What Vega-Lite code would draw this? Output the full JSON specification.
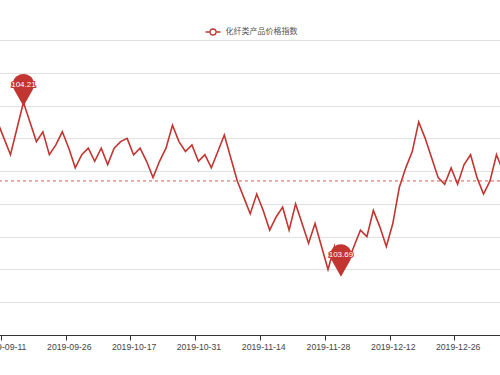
{
  "$schema": "https://vega.github.io/schema/vega-lite/v6.json",
  "autosize": {"type": "none"},
  "width": 500,
  "height": 295,
  "padding": {"top": 40, "left": 0, "right": 0, "bottom": 40},
  "background": "white",
  "config": {"view": {"stroke": null}},
  "data": {"values": [
    {"date": "2019-09-10", "value": 104.15},
    {"date": "2019-09-11", "value": 104.10},
    {"date": "2019-09-12", "value": 104.05},
    {"date": "2019-09-16", "value": 104.13},
    {"date": "2019-09-17", "value": 104.21},
    {"date": "2019-09-18", "value": 104.15},
    {"date": "2019-09-19", "value": 104.09},
    {"date": "2019-09-20", "value": 104.12},
    {"date": "2019-09-23", "value": 104.05},
    {"date": "2019-09-24", "value": 104.08},
    {"date": "2019-09-25", "value": 104.12},
    {"date": "2019-09-26", "value": 104.07},
    {"date": "2019-09-27", "value": 104.01},
    {"date": "2019-09-30", "value": 104.05},
    {"date": "2019-10-08", "value": 104.07},
    {"date": "2019-10-09", "value": 104.03},
    {"date": "2019-10-10", "value": 104.07},
    {"date": "2019-10-11", "value": 104.02},
    {"date": "2019-10-14", "value": 104.07},
    {"date": "2019-10-15", "value": 104.09},
    {"date": "2019-10-16", "value": 104.10},
    {"date": "2019-10-17", "value": 104.05},
    {"date": "2019-10-18", "value": 104.07},
    {"date": "2019-10-21", "value": 104.03},
    {"date": "2019-10-22", "value": 103.98},
    {"date": "2019-10-23", "value": 104.03},
    {"date": "2019-10-24", "value": 104.07},
    {"date": "2019-10-25", "value": 104.14},
    {"date": "2019-10-28", "value": 104.09},
    {"date": "2019-10-29", "value": 104.06},
    {"date": "2019-10-30", "value": 104.08},
    {"date": "2019-10-31", "value": 104.03},
    {"date": "2019-11-01", "value": 104.05},
    {"date": "2019-11-04", "value": 104.01},
    {"date": "2019-11-05", "value": 104.06},
    {"date": "2019-11-06", "value": 104.11},
    {"date": "2019-11-07", "value": 104.04},
    {"date": "2019-11-08", "value": 103.97},
    {"date": "2019-11-11", "value": 103.92},
    {"date": "2019-11-12", "value": 103.87},
    {"date": "2019-11-13", "value": 103.93},
    {"date": "2019-11-14", "value": 103.88},
    {"date": "2019-11-15", "value": 103.82},
    {"date": "2019-11-18", "value": 103.86},
    {"date": "2019-11-19", "value": 103.89},
    {"date": "2019-11-20", "value": 103.82},
    {"date": "2019-11-21", "value": 103.90},
    {"date": "2019-11-22", "value": 103.84},
    {"date": "2019-11-25", "value": 103.78},
    {"date": "2019-11-26", "value": 103.84},
    {"date": "2019-11-27", "value": 103.77},
    {"date": "2019-11-28", "value": 103.70},
    {"date": "2019-11-29", "value": 103.77},
    {"date": "2019-12-02", "value": 103.69},
    {"date": "2019-12-03", "value": 103.72},
    {"date": "2019-12-04", "value": 103.77},
    {"date": "2019-12-05", "value": 103.82},
    {"date": "2019-12-06", "value": 103.80},
    {"date": "2019-12-09", "value": 103.88},
    {"date": "2019-12-10", "value": 103.83},
    {"date": "2019-12-11", "value": 103.77},
    {"date": "2019-12-12", "value": 103.84},
    {"date": "2019-12-13", "value": 103.95},
    {"date": "2019-12-16", "value": 104.01},
    {"date": "2019-12-17", "value": 104.06},
    {"date": "2019-12-18", "value": 104.15},
    {"date": "2019-12-19", "value": 104.10},
    {"date": "2019-12-20", "value": 104.04},
    {"date": "2019-12-23", "value": 103.98},
    {"date": "2019-12-24", "value": 103.96},
    {"date": "2019-12-25", "value": 104.01},
    {"date": "2019-12-26", "value": 103.96},
    {"date": "2019-12-27", "value": 104.02},
    {"date": "2019-12-30", "value": 104.05},
    {"date": "2019-12-31", "value": 103.98},
    {"date": "2020-01-02", "value": 103.93},
    {"date": "2020-01-03", "value": 103.97},
    {"date": "2020-01-06", "value": 104.05},
    {"date": "2020-01-07", "value": 104.00}
  ]},
  "transform": [
    {"joinaggregate": [{"op": "max", "field": "value", "as": "vmax"}, {"op": "min", "field": "value", "as": "vmin"}]}
  ],
  "layer": [
    {
      "mark": {"type": "line", "strokeWidth": 1.6, "clip": true},
      "encoding": {
        "x": {
          "field": "date", "type": "ordinal", "sort": null,
          "scale": {"type": "band", "range": [-5.72, 506.2], "paddingInner": 0, "paddingOuter": 0},
          "axis": {
            "title": null,
            "values": ["2019-09-11", "2019-09-26", "2019-10-17", "2019-10-31", "2019-11-14", "2019-11-28", "2019-12-12", "2019-12-26"],
            "labelAngle": 0, "labelOverlap": false, "labelFlush": false,
            "labelFont": "Liberation Sans", "labelFontSize": 8.7, "labelColor": "#444",
            "labelPadding": 2, "tickOffset": -3.24, "labelOffset": 3.24,
            "domainColor": "#333", "tickColor": "#333", "tickSize": 5, "grid": false
          }
        },
        "y": {
          "field": "value", "type": "quantitative",
          "scale": {"domain": [103.5, 104.4], "nice": false, "zero": false},
          "axis": {
            "title": null, "labels": false, "ticks": false, "domain": false,
            "grid": true, "gridColor": "#e0e0e0", "tickCount": 10,
            "values": [103.5, 103.6, 103.7, 103.8, 103.9, 104.0, 104.1, 104.2, 104.3, 104.4]
          }
        },
        "color": {
          "datum": "化纤类产品价格指数",
          "scale": {"range": ["#c23531"]},
          "legend": {
            "orient": "none", "legendX": 204.5, "legendY": -16.5, "title": null,
            "symbolType": "M-1,0L-0.4,0M0.4,0L1,0M-0.4,0A0.4,0.4,0,1,1,0.4,0A0.4,0.4,0,1,1,-0.4,0",
            "symbolSize": 225, "symbolStrokeWidth": 1.3, "symbolFillColor": "white",
            "labelFont": "Noto Sans CJK SC", "labelFontSize": 8, "labelColor": "#555", "labelOffset": 4
          }
        }
      }
    },
    {
      "data": {"values": [{"avg": 103.97}]},
      "mark": {"type": "rule", "color": "#c23531", "strokeWidth": 1, "strokeDash": [3, 3], "opacity": 0.8},
      "encoding": {
        "y": {
          "field": "avg", "type": "quantitative",
          "axis": {
            "title": null, "labels": false, "ticks": false, "domain": false,
            "grid": true, "gridColor": "#e0e0e0", "tickCount": 10,
            "values": [103.5, 103.6, 103.7, 103.8, 103.9, 104.0, 104.1, 104.2, 104.3, 104.4]
          }
        }
      }
    },
    {
      "mark": {"type": "point", "shape": "M0,0.133L-0.305,-0.412A0.35,0.35,0,1,1,0.305,-0.412Z", "size": 3700, "filled": true, "color": "#c23531", "strokeWidth": 0},
      "encoding": {
        "x": {"field": "date", "type": "ordinal", "sort": null},
        "y": {"field": "value", "type": "quantitative"},
        "opacity": {"condition": {"test": "datum.value == datum.vmax || datum.value == datum.vmin", "value": 1}, "value": 0}
      }
    },
    {
      "mark": {"type": "text", "color": "#c23531", "stroke": "#c23531", "strokeWidth": 2, "font": "Liberation Sans", "fontSize": 8, "dy": -17.5, "baseline": "middle"},
      "encoding": {
        "x": {"field": "date", "type": "ordinal", "sort": null},
        "y": {"field": "value", "type": "quantitative"},
        "text": {"field": "value", "type": "quantitative", "format": ".2f"},
        "opacity": {"condition": {"test": "datum.value == datum.vmax || datum.value == datum.vmin", "value": 1}, "value": 0}
      }
    },
    {
      "mark": {"type": "text", "color": "white", "font": "Liberation Sans", "fontSize": 8, "dy": -17.5, "baseline": "middle"},
      "encoding": {
        "x": {"field": "date", "type": "ordinal", "sort": null},
        "y": {"field": "value", "type": "quantitative"},
        "text": {"field": "value", "type": "quantitative", "format": ".2f"},
        "opacity": {"condition": {"test": "datum.value == datum.vmax || datum.value == datum.vmin", "value": 1}, "value": 0}
      }
    }
  ]
}
